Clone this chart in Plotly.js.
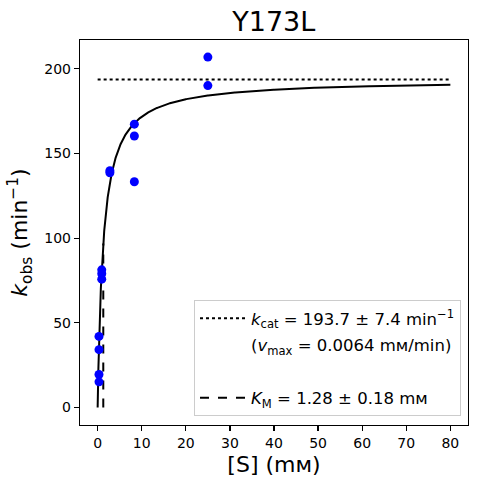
<!DOCTYPE html>
<html>
<head>
<meta charset="utf-8">
<script src="https://cdn.plot.ly/plotly-3.0.1.min.js"></script>
<style>
  html, body { margin: 0; padding: 0; background: #fff; }
  #chart { width: 477px; height: 484px; }
</style>
</head>
<body>
<div id="chart"></div>
<script>
// Measured data: substrate concentration [S] (mM) and observed rate k_obs (min^-1)
const substrateConc = [0.31, 0.31, 0.31, 0.31, 0.93, 0.93, 0.93, 2.78, 2.78, 8.33, 8.33, 8.33, 25, 25];
const kobsValues    = [42.0, 34.2, 19.5, 15.2, 81.3, 79.0, 75.8, 139.8, 138.6, 167.3, 160.3, 133.3, 206.9, 190.1];

// Fit parameters (Michaelis–Menten) shown in the legend
const kcat = 193.7;
const KM = 1.28;
const fitXMax = 80;

// Fit curve sampled from the fitted model
const fitX = [];
const fitY = [];
for (let i = 0; i <= 800; i++) {
  const s = fitXMax * Math.pow(i / 800, 2);
  fitX.push(s);
  fitY.push(kcat * s / (KM + s));
}

const font = 'DejaVu Sans, sans-serif';

const traces = [
  {
    x: fitX, y: fitY, mode: 'lines', type: 'scatter',
    line: {color: 'black', width: 2}, showlegend: false, hoverinfo: 'skip'
  },
  {
    x: [0, fitXMax], y: [kcat, kcat], mode: 'lines', type: 'scatter',
    line: {color: 'black', width: 2, dash: 'dot'},
    name: '<i>k</i><sub>cat</sub> = 193.7 ± 7.4 min<sup>−1</sup>',
    legendgroup: 'a', showlegend: true
  },
  {
    x: [null], y: [null], mode: 'lines', type: 'scatter',
    line: {color: 'rgba(0,0,0,0)', width: 2},
    name: '(<i>v</i><sub>max</sub> = 0.0064 mᴍ/min)',
    legendgroup: 'b', showlegend: true
  },
  {
    x: [null], y: [null], mode: 'lines', type: 'scatter',
    line: {color: 'rgba(0,0,0,0)', width: 2},
    name: ' ',
    legendgroup: 'c', showlegend: true
  },
  {
    x: [KM, KM], y: [0, kcat / 2], mode: 'lines', type: 'scatter',
    line: {color: 'black', width: 2, dash: 'dash'},
    name: '<i>K</i><sub>M</sub> = 1.28 ± 0.18 mᴍ',
    legendgroup: 'd', showlegend: true
  },
  {
    x: substrateConc, y: kobsValues, mode: 'markers', type: 'scatter',
    marker: {color: '#0000ff', size: 9}, showlegend: false
  }
];

const layout = {
  width: 477, height: 484,
  margin: {l: 80, r: 9, t: 40, b: 59},
  paper_bgcolor: 'white', plot_bgcolor: 'white',
  font: {family: font, color: 'black', size: 14},
  title: {
    text: 'Y173L', font: {size: 27, family: font, color: 'black'},
    x: 0.574, xanchor: 'center', y: 0.955, yanchor: 'middle', yref: 'container'
  },
  xaxis: {
    range: [-4, 84], tickvals: [0, 10, 20, 30, 40, 50, 60, 70, 80],
    showgrid: false, zeroline: false, showline: true, linecolor: 'black', linewidth: 1.2,
    mirror: true, ticks: 'outside', ticklen: 5, tickwidth: 1.2, tickcolor: 'black',
    tickfont: {size: 14, family: font, color: 'black'},
    title: {text: '[S] (mᴍ)', font: {size: 22, family: font, color: 'black'}, standoff: 6}
  },
  yaxis: {
    range: [-10.3, 217], tickvals: [0, 50, 100, 150, 200],
    showgrid: false, zeroline: false, showline: true, linecolor: 'black', linewidth: 1.2,
    mirror: true, ticks: 'outside', ticklen: 5, tickwidth: 1.2, tickcolor: 'black',
    tickfont: {size: 14, family: font, color: 'black'},
    title: {text: '<i>k</i><sub>obs</sub> (min<sup>−1</sup>)', font: {size: 22, family: font, color: 'black'}, standoff: 10}
  },
  legend: {
    x: 0.982, xanchor: 'right', y: 0.023, yanchor: 'bottom',
    bordercolor: '#cccccc', borderwidth: 1, bgcolor: 'rgba(255,255,255,0.8)',
    font: {size: 16.5, family: font, color: 'black'},
    tracegroupgap: 2, traceorder: 'grouped', itemwidth: 46
  },
  showlegend: true
};

Plotly.newPlot('chart', traces, layout, {staticPlot: true, displayModeBar: false});
</script>
</body>
</html>
